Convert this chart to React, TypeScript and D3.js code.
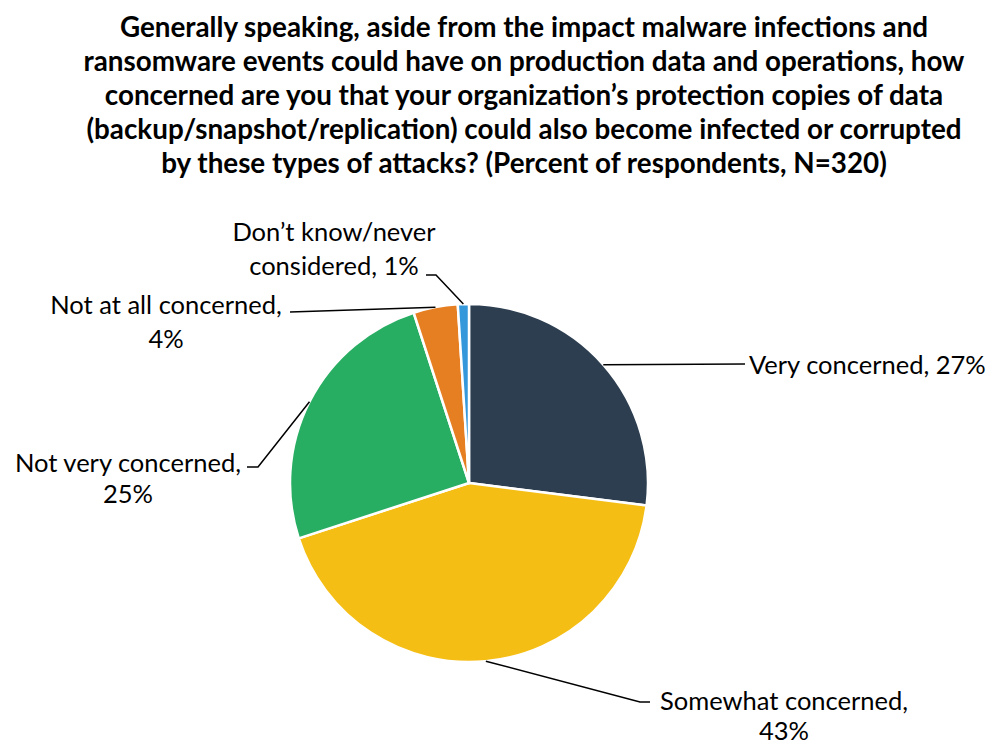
import React from 'react';
import * as d3 from 'd3';

const categories = [
  'Very concerned',
  'Somewhat concerned',
  'Not very concerned',
  'Not at all concerned',
  'Don\u2019t know/never considered',
];
const values = [27, 43, 25, 4, 1];
const colors = ['#2C3E50', '#F5BE15', '#28AE62', '#E67E22', '#3498DB'];

const titleLines = [
  'Generally speaking, aside from the impact malware infections and',
  'ransomware events could have on production data and operations, how',
  'concerned are you that your organization\u2019s protection copies of data',
  '(backup/snapshot/replication) could also become infected or corrupted',
  'by these types of attacks? (Percent of respondents, N=320)',
];

// label layout: leader elbow points and text lines (positions only)
const labelLayout = [
  { pts: [[745, 364]], anchor: 'start', tx: 749, ty: [365], lines: ['Very concerned, 27%'] },
  { pts: [[640, 702], [650, 702]], anchor: 'middle', tx: 784, ty: [701, 731], lines: ['Somewhat concerned,', '43%'] },
  { pts: [[258, 467], [247, 467]], anchor: 'middle', tx: 128, ty: [463, 494], lines: ['Not very concerned,', '25%'] },
  { pts: [[290, 312]], anchor: 'middle', tx: 166, ty: [305, 339], lines: ['Not at all concerned,', '4%'] },
  { pts: [[436, 275], [426, 275]], anchor: 'middle', tx: 334, ty: [232, 266], lines: ['Don\u2019t know/never', 'considered, 1%'] },
];

const cx = 469;
const cy = 483;
const radius = 179;
const font = "Lato, 'Open Sans', sans-serif";

export default function App() {
  const pie = d3.pie<number>().sort(null).value((d) => d)(values);
  const arc = d3.arc<d3.PieArcDatum<number>>().innerRadius(0).outerRadius(radius);

  return (
    <svg width={994} height={744} style={{ position: 'absolute', left: 0, top: 0, background: '#fff' }}>
      <rect width={994} height={744} fill="#fff" />
      {titleLines.map((t, i) => (
        <text
          key={i}
          x={524}
          y={37 + i * 34}
          textAnchor="middle"
          fontFamily={font}
          fontWeight="bold"
          fontSize={27.8}
          fill="#000"
        >
          {t}
        </text>
      ))}
      <g transform={`translate(${cx},${cy})`}>
        {pie.map((p, i) => (
          <path key={i} d={arc(p) || ''} fill={colors[i]} stroke="#fff" strokeWidth={2.5} strokeLinejoin="round" />
        ))}
      </g>
      {pie.map((p, i) => {
        const mid = (p.startAngle + p.endAngle) / 2;
        const sx = cx + radius * Math.sin(mid);
        const sy = cy - radius * Math.cos(mid);
        const lay = labelLayout[i];
        const pts = [[sx, sy], ...lay.pts];
        return (
          <g key={i}>
            <polyline
              points={pts.map((q) => q.join(',')).join(' ')}
              fill="none"
              stroke="#000"
              strokeWidth={1.5}
            />
            {lay.lines.map((l, j) => (
              <text
                key={j}
                x={lay.tx}
                y={lay.ty[j]}
                dy="0.35em"
                textAnchor={lay.anchor as any}
                fontFamily={font}
                fontSize={25.5}
                fill="#000"
              >
                {l}
              </text>
            ))}
          </g>
        );
      })}
    </svg>
  );
}
